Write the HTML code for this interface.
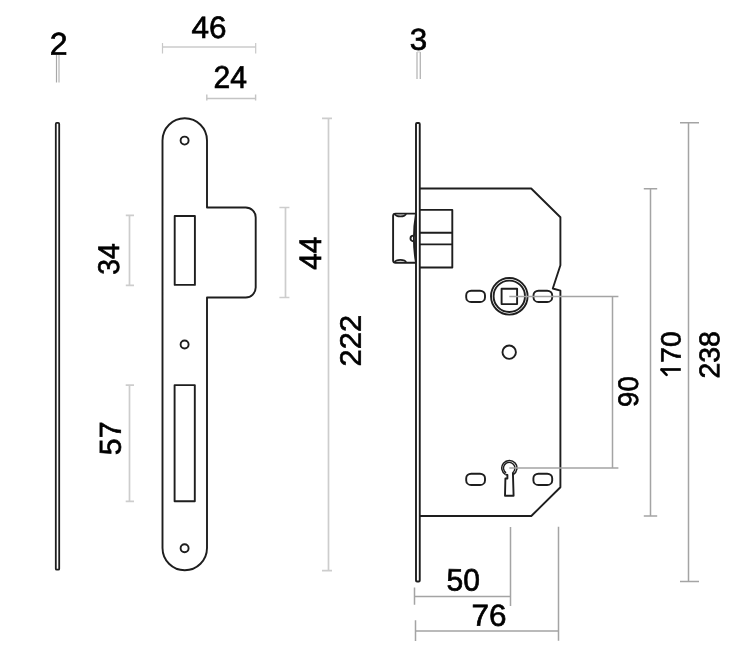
<!DOCTYPE html>
<html><head><meta charset="utf-8">
<style>
html,body{margin:0;padding:0;background:#fff;width:743px;height:670px;overflow:hidden}
svg{display:block;will-change:transform}
text{font-family:"Liberation Sans",sans-serif;fill:#000;stroke:#000;stroke-width:0.7;text-rendering:geometricPrecision}
.o{fill:none;stroke:#1e1e1e;stroke-width:1.9;stroke-linejoin:round}
.dL path{fill:none;stroke:#cdcdcd;stroke-width:1.7}
.dR path{fill:none;stroke:#a4a4a4;stroke-width:1.5}
</style></head>
<body>
<svg width="743" height="670" viewBox="0 0 743 670">

<!-- "2" thickness -->
<path d="M56.5 55V82.5" stroke="#a8a8a8" stroke-width="1.2" fill="none"/>
<path d="M59 55V82.5" stroke="#cfcfcf" stroke-width="1.8" fill="none"/>
<rect class="o" style="stroke-width:1.8" x="55.8" y="122.9" width="3.4" height="446.8" rx="1"/>

<!-- 46 / 24 -->
<path d="M162.5 47H255.7" stroke="#d8d8d8" stroke-width="2" fill="none"/>
<path d="M162.5 43V53.5M255.7 43V53.5" stroke="#c8c8c8" stroke-width="1.2" fill="none"/>
<path d="M206.8 98.5H255.6M206.8 94.4V100.5M255.6 94.4V100.5" stroke="#c4c4c4" stroke-width="1.4" fill="none"/>

<!-- strike plate -->
<path class="o" d="M162.5 140.5A22.25 22.25 0 0 1 207 140.5V207.5H245.7A10 10 0 0 1 255.7 217.5V287.5A10 10 0 0 1 245.7 297.5H207V548A22.25 22.25 0 0 1 162.5 548Z"/>
<circle class="o" cx="184.6" cy="140.6" r="4"/>
<circle class="o" cx="184.6" cy="344.5" r="4"/>
<circle class="o" cx="184.6" cy="548.2" r="4"/>
<rect class="o" x="174.7" y="216" width="20.2" height="68.9"/>
<rect class="o" x="174.6" y="385.1" width="20.2" height="116.1"/>

<!-- 34 / 57 / 44 / 222 dims -->
<g class="dL">
<path d="M129.5 215.4V285.4M125.8 215.4H134M125.8 285.4H134"/>
<path d="M129.5 385.2V501.4M125.7 385.2H134M125.7 501.4H134"/>
<path d="M285.5 207.5V297.5M279.4 207.5H289.4M279.4 297.5H289.4"/>
<path d="M328.5 118.3V570.6M322 118.3H332M322 570.6H332"/>
</g>

<!-- "3" -->
<path d="M417 52V79" stroke="#cbcbcb" stroke-width="1.8" fill="none"/>
<path d="M420.3 52V79" stroke="#b4b4b4" stroke-width="1.3" fill="none"/>
<path d="M417 52H420.3" stroke="#cbcbcb" stroke-width="1" fill="none"/>

<!-- lock faceplate -->
<rect class="o" x="416" y="123" width="3.75" height="458.5" rx="1"/>
<!-- case -->
<path class="o" d="M420 188.5H531.2L560.4 217.2V265.2L552.8 288.5L560.4 290.7V487.3L531.3 516H420"/>
<!-- latch housing -->
<path class="o" d="M420 209.9H452.3V267.5H420M420 232.8H452.3M420 244.4H452.3"/>
<!-- latch bolt -->
<path class="o" d="M416 213.6H395.5Q393.1 213.6 393.1 216.1V260.2Q393.1 262.7 395.5 262.7H416"/>
<path class="o" d="M394.8 213.6A5.6 2.8 0 0 0 406 213.6M394.8 262.7A5.6 2.8 0 0 1 406 262.7"/>
<path class="o" d="M416 213.6Q411.8 238.2 416 262.7"/>
<path class="o" d="M413.3 235.6A2.8 2.8 0 0 0 413.3 241.2"/>
<!-- follower -->
<circle class="o" cx="509.3" cy="296.3" r="18.3"/>
<circle class="o" cx="509.3" cy="296.3" r="15.7"/>
<rect class="o" x="501.6" y="288.8" width="15.5" height="15.3"/>
<!-- slots -->
<rect class="o" x="466.2" y="290.7" width="18.8" height="11.3" rx="5" ry="4.6"/>
<rect class="o" x="533.5" y="290.7" width="18.7" height="11.3" rx="5" ry="4.6"/>
<rect class="o" x="466.2" y="473.7" width="18.8" height="11.3" rx="5" ry="4.6"/>
<rect class="o" x="533.4" y="473.7" width="18.8" height="11.3" rx="5" ry="4.6"/>
<circle class="o" cx="509.2" cy="352.2" r="6.7"/>
<!-- keyhole -->
<path class="o" style="stroke-width:1.5" d="M505.6 474.6A7.6 7.6 0 1 1 513.3 474.5"/>
<path class="o" style="stroke-width:1.4" d="M506.1 472.9A5.7 5.7 0 1 1 512.6 472.7"/>
<path class="o" d="M505.6 474.6L507.4 474.9V478.5H505.4L505 495.8H513.6L512.9 472.4"/>

<g class="dR">
<!-- 90 dim -->
<path d="M509.3 296.5H618.4M509.3 468H618.4M612.5 296.5V468"/>
<!-- 170 -->
<path d="M650.5 188.7V516M643.8 188.7H657.2M643.8 516H657.2"/>
<!-- 238 -->
<path d="M688.5 122.7V581.5M680 122.7H699M680 581.5H699"/>
<!-- 50 / 76 -->
<path d="M414.5 596.6H510.5M414.5 587.5V604.7M510.5 527V606"/>
<path d="M415.5 631.1H558.5M415.5 620.3V641M558.5 526.7V640.7"/>
</g>

<!-- labels -->
<text transform="translate(49.77 54.66) skewY(0.05) scale(1.0034 0.9916)" font-size="32">2</text>
<text transform="translate(191.46 37.88) skewY(0.05) scale(0.9843 0.9655)" font-size="32">46</text>
<text transform="translate(213.47 87.94) skewY(0.05) scale(0.9411 0.9882)" font-size="32">24</text>
<text transform="translate(118.96 274.83) rotate(-90) skewY(0.05) scale(0.8832 0.9371)" font-size="32">34</text>
<text transform="translate(120.64 455.13) rotate(-90) skewY(0.05) scale(0.9482 0.9476)" font-size="32">57</text>
<text transform="translate(320.92 269.82) rotate(-90) skewY(0.05) scale(0.9316 0.9696)" font-size="32">44</text>
<text transform="translate(360.84 366.40) rotate(-90) skewY(0.05) scale(0.9648 0.9247)" font-size="32">222</text>
<text transform="translate(409.87 49.67) skewY(0.05) scale(0.9800 0.9466)" font-size="32">3</text>
<text transform="translate(637.94 406.94) rotate(-90) skewY(0.05) scale(0.9516 0.9757)" font-size="29">90</text>
<text transform="translate(680.58 378.39) rotate(-90) skewY(0.05) scale(0.9725 0.9642)" font-size="29"><tspan style="fill:none;stroke:none">1</tspan>70</text>
<path d="M660.6 369.5H680.8" stroke="#000" stroke-width="2.7" fill="none"/><path d="M661.5 369.7L666.6 374.9" stroke="#000" stroke-width="2.6" stroke-linecap="round" fill="none"/>
<text transform="translate(719.14 378.62) rotate(-90) skewY(0.05) scale(0.9792 0.9828)" font-size="29">238</text>
<text transform="translate(446.49 590.46) skewY(0.05) scale(0.9396 0.9682)" font-size="32">50</text>
<text transform="translate(471.39 625.69) skewY(0.05) scale(0.9848 0.9512)" font-size="32">76</text>
</svg>
</body></html>
